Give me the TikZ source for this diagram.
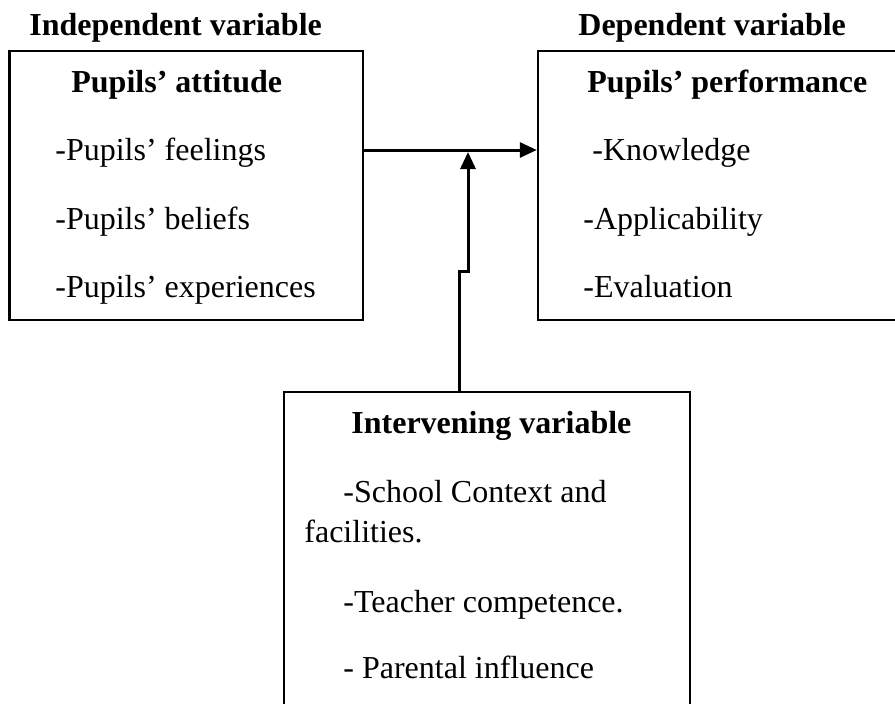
\documentclass[tikz,border=0pt]{standalone}
\usepackage{fontspec}
\setmainfont{Liberation Serif}
\usepackage{tikz}
\usetikzlibrary{arrows.meta,positioning,fit,calc}

\tikzset{
  box/.style={draw, line width=1.2pt, inner sep=0pt},
  txt/.style={anchor=base west, inner sep=0pt, font=\fontsize{16}{19}\selectfont},
  head/.style={txt, font=\fontsize{16}{19}\selectfont\bfseries},
  link/.style={line width=1.5pt, -{Triangle[length=8.5pt,width=7.5pt]}}
}

\begin{document}
\begin{tikzpicture}[x=0.5pt, y=-0.5pt]
\useasboundingbox (0,0) rectangle (895,703);
\clip (0,0) rectangle (895,703);

% Variable titles
\node[head] (indeptitle) at (29,35) {Independent variable};
\node[head] (deptitle) at (578,35) {Dependent variable};

% Independent box
\node[box, fit={(9.5,51) (363,320)}] (attitude) {};
\node[head] (attitudehead) at (71,92) {Pupils’ attitude};
\node[txt] (feelings) at (55,160) {-Pupils’ feelings};
\node[txt] (beliefs) at (55,229) {-Pupils’ beliefs};
\node[txt] (experiences) at (55,297) {-Pupils’ experiences};

% Dependent box
\node[box, fit={(538,51) (905,320)}] (performance) {};
\node[head] (performancehead) at (587,92) {Pupils’ performance};
\node[txt] (knowledge) at (592,160) {-Knowledge};
\node[txt] (applicability) at (583,229) {-Applicability};
\node[txt] (evaluation) at (583,297) {-Evaluation};

% Intervening box
\node[box, fit={(284,392) (690,760)}] (intervening) {};
\node[head] (interveninghead) at (351,433) {Intervening variable};
\node[txt] (context) at (343,502) {-School Context and};
\node[txt] (facilities) at (304,542) {facilities.};
\node[txt] (teacher) at (343,612) {-Teacher competence.};
\node[txt] (parental) at (343,678) {- Parental influence};

% Connectors
\coordinate (join) at (468,150);
\coordinate (tip) at (468,152);
\coordinate (step) at (459,271);
\draw[link] (attitude.east |- join) -- (performance.west |- join);
\draw[link] (intervening.north -| step) -- (step) -- (step -| tip) -- (tip);

\end{tikzpicture}
\end{document}
